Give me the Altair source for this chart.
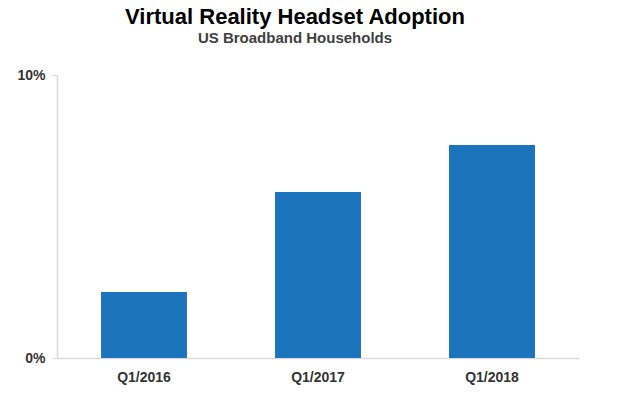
import altair as alt
import pandas as pd

quarters = ["Q1/2016", "Q1/2017", "Q1/2018"]
adoption = [0.0233, 0.0587, 0.0753]

df = pd.DataFrame({"quarter": quarters, "adoption": adoption})

FONT = "Liberation Sans"

bars = alt.Chart(df).mark_bar(color="#1C75BC").encode(
    x=alt.X("quarter:N", sort=quarters, title=None,
            scale=alt.Scale(paddingInner=0.506, paddingOuter=0.253),
            axis=alt.Axis(labelAngle=0, labelFont=FONT, labelFontWeight="bold",
                          labelFontSize=14, labelColor="#333333", labelPadding=12,
                          ticks=False, domainColor="#d9d9d9", domainWidth=1.5)),
    y=alt.Y("adoption:Q", title=None,
            scale=alt.Scale(domain=[0, 0.1], nice=False),
            axis=alt.Axis(values=[0, 0.1], format=".0%", grid=False,
                          labelFont=FONT, labelFontWeight="bold", labelFontSize=14,
                          labelColor="#333333", labelPadding=7,
                          tickSize=5, tickColor="#d9d9d9", domainColor="#d9d9d9",
                          domainWidth=1.5)),
)

chart = bars.properties(
    width=522,
    height=283,
    autosize=alt.AutoSizeParams(type="none"),
    padding={"left": 49, "top": 67, "right": 53, "bottom": 40},
    title=alt.Title(
        "Virtual Reality Headset Adoption",
        subtitle="US Broadband Households",
        font=FONT, fontSize=22, fontWeight="bold", color="#000000",
        subtitleFont=FONT, subtitleFontSize=15, subtitleFontWeight="bold",
        subtitleColor="#404040", subtitlePadding=2,
        anchor="middle", dx=-23, offset=21,
    ),
).configure_view(stroke=None)

chart.save("out.html", embed_options={"renderer": "svg", "actions": False})
